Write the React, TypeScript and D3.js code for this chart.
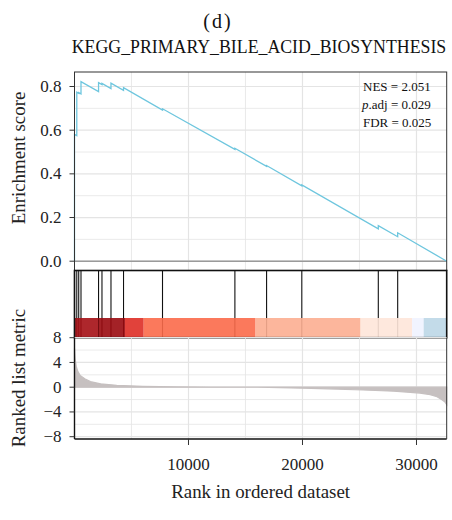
import React from 'react';
import * as d3 from 'd3';

const N = 32650;
const hitRanks = [1, 200, 370, 570, 2110, 2410, 3200, 4300, 7720, 14070, 16850, 19940, 26650, 28350];
const esPoints: [number, number][] = [
  [0, 0], [1, 0.581], [200, 0.575], [200, 0.774], [370, 0.769], [370, 0.772],
  [570, 0.766], [570, 0.822], [2110, 0.777], [2110, 0.818], [2410, 0.809], [2410, 0.814],
  [3200, 0.790], [3200, 0.815], [4300, 0.782], [4300, 0.795], [7720, 0.692], [7720, 0.698],
  [14070, 0.512], [14070, 0.517], [16850, 0.434], [16850, 0.438], [19940, 0.345], [19940, 0.349],
  [26650, 0.148], [26650, 0.163], [28350, 0.112], [28350, 0.130], [32650, 0.0],
];
const metricPoints: [number, number][] = [
  [1, 6.3], [60, 4.6], [150, 3.4], [280, 2.6], [500, 1.9], [900, 1.35], [1400, 0.9],
  [2300, 0.55], [3700, 0.3], [6000, 0.15], [9000, 0.07], [12000, 0.03], [16000, 0],
  [20000, -0.15], [23000, -0.3], [25300, -0.45], [28000, -0.65], [30300, -0.95],
  [31200, -1.2], [31800, -1.55], [32200, -2.0], [32500, -2.4], [32650, -2.8],
];
const barBreaks = [0, 2090, 4430, 6070, 15880, 25090, 29620, 30630, 32650];
const barColors = ['#A50F15', '#9A0A10', '#DE2D26', '#FB6A4A', '#FCAE91', '#FEE5D9', '#EFF3FF', '#BDD7E7'];
const esTicks = [0, 0.2, 0.4, 0.6, 0.8];
const esGrid = [0, 0.1, 0.2, 0.3, 0.4, 0.5, 0.6, 0.7, 0.8];
const metricTicks = [-8, -4, 0, 4, 8];
const metricGrid = [-8, -6, -4, -2, 0, 2, 4, 6, 8];
const rankTicks = [10000, 20000, 30000];
const rankGrid = [5000, 10000, 15000, 20000, 25000, 30000];

const FONT = "'Liberation Serif', 'DejaVu Serif', serif";

export default function App() {
  const L = 74.5, R = 446.7;
  const upTop = 72, upBot = 270.5;
  const tkTop = 270.5, tkBot = 337.7, barTop = 318;
  const loTop = 337.7, loBot = 439;

  const x = d3.scaleLinear().domain([0, N]).range([L, R]);
  const yES = d3.scaleLinear().domain([0, 0.8]).range([261.2, 86.5]);
  const yM = d3.scaleLinear().domain([-8, 8]).range([436.7, 337.7]);

  const esLine = d3.line<[number, number]>().x(d => x(d[0])).y(d => yES(d[1]))(esPoints) || '';
  const mArea = d3.area<[number, number]>().x(d => x(d[0])).y0(yM(0)).y1(d => yM(d[1]))(metricPoints) || '';

  const fmt = (v: number) => v.toFixed(1);
  const fmtM = (v: number) => (v < 0 ? '\u2212' + Math.abs(v) : String(v));
  const ts = { fontFamily: FONT } as React.CSSProperties;

  return (
    <svg width={452} height={520} style={{ position: 'absolute', left: 0, top: 0, background: '#fff', fontFamily: FONT }}>
      <rect x={0} y={0} width={452} height={520} fill="#fff" />
      <text style={ts} x={218} y={28} fontSize={20} textAnchor="middle" letterSpacing={2} fill="#111">(d)</text>
      <text style={ts} x={259} y={53} fontSize={17.8} textAnchor="middle" fill="#111">KEGG_PRIMARY_BILE_ACID_BIOSYNTHESIS</text>

      <g>
        {esGrid.map(v => (
          <line key={'eg' + v} x1={L} x2={R} y1={yES(v)} y2={yES(v)} stroke="#e4e4e4" strokeWidth={Math.round(v * 10) % 2 === 0 ? 1.2 : 0.8} />
        ))}
        {rankGrid.map(v => (
          <line key={'rg' + v} x1={x(v)} x2={x(v)} y1={upTop} y2={upBot} stroke="#e4e4e4" strokeWidth={v % 10000 === 0 ? 1.2 : 0.8} />
        ))}
        <line x1={L} x2={R} y1={yES(0)} y2={yES(0)} stroke="#9a9a9a" strokeWidth={1.6} />
        <path d={esLine} fill="none" stroke="#6ec6de" strokeWidth={1.3} />
        <rect x={L} y={upTop} width={R - L} height={upBot - upTop} fill="none" stroke="#333" strokeWidth={1} />
        {esTicks.map(v => (
          <g key={'et' + v}>
            <line x1={L - 5} x2={L} y1={yES(v)} y2={yES(v)} stroke="#333" />
            <text style={ts} x={L - 13} y={yES(v) + 5.5} fontSize={17} textAnchor="end" fill="#222">{fmt(v)}</text>
          </g>
        ))}
        <text style={ts} transform={`translate(25,158) rotate(-90)`} fontSize={18.9} textAnchor="middle" fill="#222">Enrichment score</text>
        <text style={ts} x={363} y={91.3} fontSize={13} fill="#111">NES = 2.051</text>
        <text style={ts} x={362} y={109} fontSize={13} fill="#111"><tspan fontStyle="italic">p</tspan>.adj = 0.029</text>
        <text style={ts} x={363} y={127.3} fontSize={13} fill="#111">FDR = 0.025</text>
      </g>

      <g>
        {hitRanks.map(r => (
          <line key={'h' + r} x1={x(r)} x2={x(r)} y1={tkTop} y2={tkBot} stroke="#111" strokeWidth={1.1} />
        ))}
        {barColors.map((c, i) => (
          <rect key={'b' + i} x={x(barBreaks[i])} y={barTop} width={x(barBreaks[i + 1]) - x(barBreaks[i])} height={tkBot - barTop} fill={c} fillOpacity={0.9} />
        ))}
        <rect x={L} y={tkTop} width={R - L} height={tkBot - tkTop} fill="none" stroke="#111" strokeWidth={1.6} />
      </g>

      <g>
        {metricGrid.map(v => (
          <line key={'mg' + v} x1={L} x2={R} y1={yM(v)} y2={yM(v)} stroke="#e4e4e4" strokeWidth={v % 4 === 0 ? 1.2 : 0.8} />
        ))}
        {rankGrid.map(v => (
          <line key={'rg2' + v} x1={x(v)} x2={x(v)} y1={loTop} y2={loBot} stroke="#e4e4e4" strokeWidth={v % 10000 === 0 ? 1.2 : 0.8} />
        ))}
        <path d={mArea} fill="#c6c0c0" stroke="#c6c0c0" strokeWidth={1.2} />
        <line x1={L} x2={L} y1={loTop} y2={loBot} stroke="#111" strokeWidth={1.4} />
        <line x1={L} x2={R} y1={loBot} y2={loBot} stroke="#111" strokeWidth={1.4} />
        <line x1={R} x2={R} y1={loTop} y2={loBot} stroke="#333" strokeWidth={1} />
        {metricTicks.map(v => (
          <g key={'mt' + v}>
            <line x1={L - 5} x2={L} y1={yM(v)} y2={yM(v)} stroke="#333" />
            <text style={ts} x={L - 13} y={yM(v) + 5.5} fontSize={17} textAnchor="end" fill="#222">{fmtM(v)}</text>
          </g>
        ))}
        {rankTicks.map(v => (
          <g key={'xt' + v}>
            <line x1={x(v)} x2={x(v)} y1={loBot} y2={loBot + 6} stroke="#333" />
            <text style={ts} x={x(v)} y={469.5} fontSize={17} textAnchor="middle" fill="#222">{v}</text>
          </g>
        ))}
        <text style={ts} transform={`translate(25,378) rotate(-90)`} fontSize={18.9} textAnchor="middle" fill="#222">Ranked list metric</text>
        <text style={ts} x={260.6} y={498} fontSize={18.9} textAnchor="middle" fill="#222">Rank in ordered dataset</text>
      </g>
    </svg>
  );
}
